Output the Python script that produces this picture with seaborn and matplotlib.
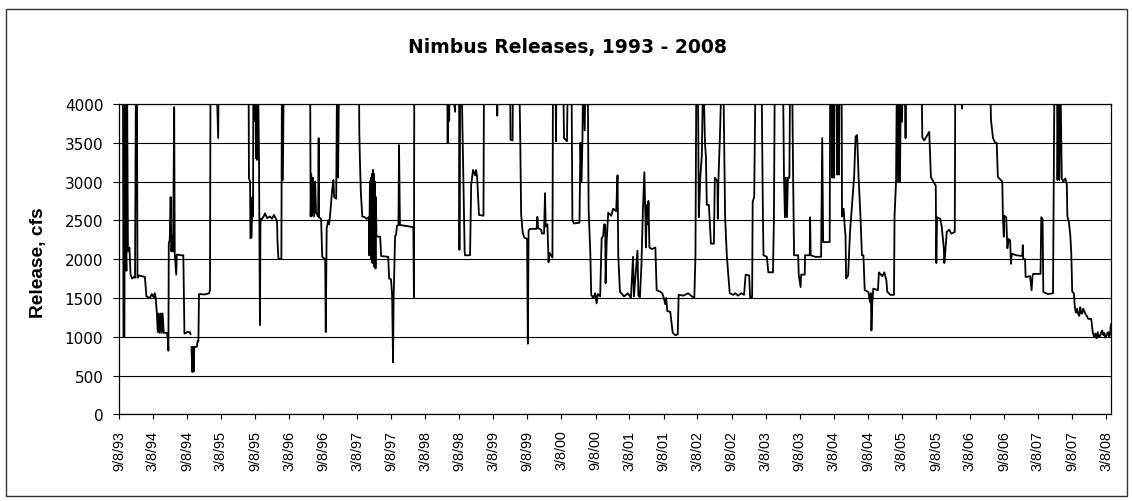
import matplotlib
matplotlib.use("Agg")
import matplotlib.pyplot as plt
from matplotlib.patches import Rectangle
import seaborn as sns
import pandas as pd

# ---------------- data (daily release, cfs; values above 4000 are off-scale) ----------------
dates_1993_94 = ["1993-09-08","1993-09-29","1993-10-02","1993-10-07","1993-10-10","1993-10-15","1993-10-18",
    "1993-10-21","1993-10-26","1993-11-03","1993-11-09","1993-11-17","1993-11-27","1993-12-03","1993-12-08",
    "1993-12-13","1993-12-16","1993-12-24","1994-01-09","1994-01-25","1994-02-02","1994-02-21","1994-03-03",
    "1994-03-13","1994-03-19","1994-03-24","1994-03-30","1994-04-04","1994-04-09","1994-04-14","1994-04-20",
    "1994-04-25","1994-04-30","1994-05-06","1994-05-22","1994-05-27","1994-05-31","1994-06-02","1994-06-07",
    "1994-06-12","1994-06-16","1994-06-20","1994-06-25","1994-07-01","1994-07-04","1994-07-12","1994-07-15",
    "1994-08-05","1994-08-19","1994-08-25","1994-09-08","1994-09-23","1994-09-27"]
cfs_1993_94 = [4500,4500,1000,1000,4500,2100,1850,4500,2100,2150,1800,1750,1770,1760,4500,4500,1760,1790,
    1780,1770,1520,1500,1550,1510,1560,1500,1300,1060,1300,1050,1300,1050,1300,1050,1050,1000,820,2200,2250,
    2800,2100,2300,2100,3960,2070,1800,2060,2050,2050,1040,1060,1060,1030]

dates_1994_96 = ["1994-10-02","1994-10-06","1994-10-10","1994-10-13","1994-10-17","1994-10-31","1994-11-03",
    "1994-11-08","1994-11-11","1994-12-13","1995-01-04","1995-01-09","1995-01-12","1995-02-11","1995-02-22",
    "1995-02-25","1995-08-04","1995-08-06","1995-08-12","1995-08-14","1995-08-20","1995-08-22","1995-08-25",
    "1995-08-28","1995-08-30","1995-09-02","1995-09-10","1995-09-13","1995-09-15","1995-09-18","1995-09-23",
    "1995-09-29","1995-10-04","1995-10-07","1995-10-10","1995-10-26","1995-10-31","1995-11-11","1995-11-27",
    "1995-12-08","1995-12-18","1995-12-29","1996-01-04","1996-01-06","1996-01-11","1996-01-27","1996-01-30",
    "1996-02-04","1996-02-09","1996-06-29","1996-07-02","1996-07-05","1996-07-10","1996-07-15","1996-07-21",
    "1996-07-26","1996-07-31","1996-08-11","1996-08-14","1996-08-16","1996-08-27","1996-09-02"]
cfs_1994_96 = [870,545,870,550,870,870,940,940,1550,1545,
    1560,1600,4500,4500,3560,4500,4500,3040,3000,2270,2280,2550,2800,2550,4500,3780,4500,3300,4500,3280,
    4500,3300,1150,2520,2500,2560,2590,2530,2550,2520,2570,2520,
    2480,2240,2010,2000,4500,3020,4500,4500,2550,3100,2560,3050,2550,3000,2600,2550,3560,2540,2520,2030]

dates_1996_98 = ["1996-09-18","1996-09-21","1996-09-26","1996-10-04","1996-10-09","1996-10-14","1996-10-25",
    "1996-11-01","1996-11-05","1996-11-16","1996-11-21","1996-11-26","1996-12-02","1997-03-18","1997-03-20",
    "1997-03-23","1997-03-28","1997-04-05","1997-04-19","1997-04-29","1997-05-10","1997-05-12","1997-05-16",
    "1997-05-18","1997-05-21","1997-05-24","1997-05-27","1997-05-29","1997-06-01","1997-06-04","1997-06-06",
    "1997-06-09","1997-06-12","1997-06-15","1997-06-17","1997-06-20","1997-06-28","1997-07-10","1997-07-15",
    "1997-08-22","1997-08-27","1997-09-06","1997-09-12","1997-09-17","1997-09-20","1997-09-28","1997-10-03",
    "1997-10-08","1997-10-16","1997-10-19","1997-10-24","1997-11-20","1997-12-17","1998-01-04","1998-01-07",
    "1998-01-09","1998-07-04","1998-07-07","1998-07-10","1998-07-15","1998-07-18","1998-08-16","1998-08-19",
    "1998-09-06"]
cfs_1996_98 = [2000,1060,2400,2500,2450,2560,2880,3020,2800,2780,4500,3050,4500,4500,3640,
    3300,2870,2550,2540,2520,2540,2050,3000,2100,3050,2000,3100,1950,3150,2000,3100,
    1900,3000,1880,2800,2300,2290,2290,2040,2030,1750,1740,1530,670,1500,2300,2310,
    2430,2440,3470,2440,2430,2420,2410,1510,4500,4500,3500,4500,3780,4500,3900,4500,4500]

dates_1998_00 = ["1998-09-08","1998-09-12","1998-09-22","1998-10-06","1998-10-08","1998-11-04","1998-11-10",
    "1998-11-20","1998-12-01","1998-12-06","1998-12-12","1998-12-22","1999-01-15","1999-01-18","1999-03-27",
    "1999-03-30","1999-04-01","1999-06-07","1999-06-09","1999-06-20","1999-06-23","1999-07-25","1999-07-31",
    "1999-08-05","1999-08-13","1999-08-21","1999-09-06","1999-09-10","1999-09-14","1999-09-22","1999-10-27",
    "1999-10-31","1999-11-04","1999-11-20","1999-11-25","1999-12-06","1999-12-11","1999-12-15","1999-12-24",
    "1999-12-30","2000-01-04","2000-01-12","2000-01-20","2000-01-23","2000-02-05","2000-02-08","2000-02-11",
    "2000-03-17","2000-03-22","2000-04-07","2000-04-12","2000-05-01","2000-05-06","2000-05-14","2000-06-13",
    "2000-06-18","2000-06-24","2000-06-29","2000-07-02","2000-07-11","2000-07-16","2000-07-27","2000-08-01",
    "2000-08-10","2000-08-15","2000-08-26","2000-09-05"]
cfs_1998_00 = [2120,4500,4000,2100,2050,2050,2960,3150,3080,3150,3060,2570,2560,4500,4500,
    3850,4500,4500,3540,3530,4500,4500,3600,2580,2350,2280,2260,910,2370,2390,2390,
    2545,2400,2380,2330,2330,2850,2420,2450,1960,2080,2050,2020,4500,4500,3520,4500,
    4500,3560,3520,4500,4500,2500,2460,2470,3500,3000,3550,4500,3660,4500,4500,2640,
    2090,1540,1500,1560]

dates_2000_02 = ["2000-09-13","2000-09-19","2000-10-02","2000-10-05","2000-10-10","2000-10-18","2000-10-23",
    "2000-10-29","2000-10-31","2000-11-06","2000-11-14","2000-11-30","2000-12-11","2000-12-27","2001-01-03",
    "2001-01-07","2001-01-16","2001-02-07","2001-02-28","2001-03-16","2001-03-27","2001-04-01","2001-04-20",
    "2001-04-25","2001-05-03","2001-05-11","2001-05-19","2001-05-27","2001-06-02","2001-06-04","2001-06-10",
    "2001-06-15","2001-06-18","2001-06-23","2001-07-07","2001-07-25","2001-08-01","2001-08-20","2001-08-31",
    "2001-09-08","2001-09-16","2001-09-21","2001-09-27","2001-10-13","2001-10-26","2001-11-09","2001-11-22",
    "2001-11-27","2001-12-22","2002-01-17","2002-02-06","2002-02-19","2002-02-25","2002-03-02","2002-03-10",
    "2002-03-15","2002-03-23","2002-03-31","2002-04-08","2002-04-17","2002-04-22","2002-04-27","2002-05-08",
    "2002-05-19","2002-06-04","2002-06-09","2002-06-23","2002-06-25","2002-06-28","2002-07-06","2002-07-17",
    "2002-07-24","2002-07-29","2002-08-03","2002-08-12","2002-08-20","2002-08-28"]
cfs_2000_02 = [1430,1550,1520,1830,2270,2300,2450,2440,1690,2230,2600,2560,2650,2620,3080,
    2050,1580,1520,1560,1500,2030,1520,2110,1530,1510,1900,2620,3120,2500,2150,2700,
    2450,2750,2150,2130,2150,1600,1580,1560,1500,1420,1500,1330,1320,1050,1020,1030,
    1540,1530,1560,1520,1500,2040,4500,4500,2540,3050,3330,4500,3500,3330,2700,2700,
    2200,2200,3050,3000,2520,3000,3560,4500,4500,3500,2550,2060,1800,1560]

dates_2002_04 = ["2002-09-15","2002-09-26","2002-10-12","2002-10-28","2002-11-13","2002-11-21","2002-12-10",
    "2002-12-15","2002-12-26","2002-12-29","2003-01-06","2003-01-14","2003-02-14","2003-02-18","2003-02-22",
    "2003-02-25","2003-03-15","2003-03-23","2003-04-17","2003-04-22","2003-04-27","2003-06-09","2003-06-15",
    "2003-06-20","2003-06-25","2003-07-01","2003-07-06","2003-07-14","2003-07-18","2003-07-28","2003-08-03",
    "2003-08-08","2003-08-30","2003-09-02","2003-09-12","2003-09-15","2003-10-04","2003-10-06","2003-10-31",
    "2003-11-02","2003-11-05","2003-11-29","2003-12-31","2004-01-06","2004-01-11","2004-02-15","2004-02-18",
    "2004-02-26","2004-02-28","2004-03-04","2004-03-10","2004-03-12","2004-03-23","2004-03-26","2004-03-31",
    "2004-04-05","2004-04-08","2004-04-19","2004-04-21","2004-04-30","2004-05-05","2004-05-10","2004-05-13",
    "2004-05-24","2004-06-03","2004-06-14","2004-06-25","2004-07-03","2004-07-11","2004-07-19","2004-07-29",
    "2004-08-06","2004-08-14","2004-08-21"]
cfs_2002_04 = [1540,1560,1530,1560,1540,1800,1790,1510,1510,2740,2800,4500,4500,3555,2540,
    2050,2030,1830,1830,2540,4500,4500,3050,2540,3050,2540,3050,3050,4500,4500,3050,
    2050,2050,1800,1640,1800,1800,2050,2050,2540,2050,2030,2030,3560,2220,2220,4500,
    4500,3050,4500,3050,4500,4500,3090,4500,3090,4500,4500,2550,2650,2440,2300,1750,
    1790,2350,2700,3060,3580,3600,3060,2560,2050,2050,1600]

dates_2004_06 = ["2004-09-10","2004-09-18","2004-09-23","2004-09-26","2004-10-01","2004-10-06","2004-10-31",
    "2004-11-05","2004-11-24","2004-12-04","2004-12-15","2004-12-20","2005-01-05","2005-01-25","2005-01-28",
    "2005-02-05","2005-02-10","2005-02-16","2005-02-21","2005-02-26","2005-03-04","2005-03-09","2005-03-14",
    "2005-03-25","2005-03-28","2005-03-30","2005-06-21","2005-06-26","2005-07-06","2005-08-02","2005-08-11",
    "2005-08-24","2005-09-06","2005-09-09","2005-09-13","2005-09-30","2005-10-08","2005-10-19","2005-10-22",
    "2005-10-27","2005-11-04","2005-11-17","2005-11-28","2005-12-17","2005-12-20","2006-01-22","2006-01-25",
    "2006-01-28","2006-06-24","2006-06-29","2006-07-10","2006-07-22","2006-07-30","2006-08-05","2006-08-29",
    "2006-09-01","2006-09-06"]
cfs_2004_06 = [1575,1450,1560,1080,1450,1620,1600,1830,1780,1830,1730,1580,1540,1540,2560,
    3000,4500,3000,4500,3000,4500,3770,4500,4500,3560,4500,4500,3570,3530,3640,3060,
    3000,2950,1950,2540,2520,2420,2150,1950,2090,2350,2380,2330,2350,4500,4500,3940,
    4500,4500,3800,3560,3500,3500,3060,3000,2560,2290]

dates_2006_08 = ["2006-09-08","2006-09-19","2006-09-25","2006-10-02","2006-10-10","2006-10-14","2006-10-19",
    "2006-11-12","2006-12-14","2006-12-17","2006-12-19","2006-12-29","2007-01-01","2007-01-25","2007-02-02",
    "2007-02-07","2007-02-11","2007-03-22","2007-03-26","2007-04-02","2007-04-06","2007-05-01","2007-05-28",
    "2007-06-05","2007-06-18","2007-06-21","2007-06-26","2007-07-01","2007-07-06","2007-07-14","2007-07-22",
    "2007-08-02","2007-08-10","2007-08-13","2007-08-21","2007-08-29","2007-09-03","2007-09-08","2007-09-17",
    "2007-09-22","2007-09-28","2007-10-05","2007-10-10","2007-10-16","2007-10-21","2007-10-27","2007-11-01",
    "2007-11-06","2007-11-12","2007-11-18","2007-11-25","2007-12-03","2007-12-19","2007-12-27","2008-01-03",
    "2008-01-10","2008-01-17","2008-01-23","2008-01-29","2008-02-05","2008-02-11","2008-02-16","2008-02-22",
    "2008-02-27","2008-03-03","2008-03-08","2008-03-13","2008-03-19","2008-03-24","2008-03-29","2008-04-02"]
cfs_2006_08 = [2560,2540,2140,2260,2240,1940,2070,2050,2040,2180,2000,2000,1770,1780,1600,
    1780,1810,1810,2540,2520,1575,1550,1560,4500,4500,3020,4500,3020,4500,3040,3000,
    3040,2960,2550,2480,2300,2070,1580,1560,1380,1310,1360,1290,1270,1380,1300,1300,
    1360,1330,1290,1270,1230,1230,1060,1000,1040,980,1060,1000,1010,1060,1080,1020,
    1050,990,1000,1040,1060,1000,1030,1160]

# segment 1 ends before a gap in the record (late Sep 1994)
segments = [
    [(dates_1993_94, cfs_1993_94)],
    [(dates_1994_96, cfs_1994_96), (dates_1996_98, cfs_1996_98), (dates_1998_00, cfs_1998_00),
     (dates_2000_02, cfs_2000_02), (dates_2002_04, cfs_2002_04), (dates_2004_06, cfs_2004_06),
     (dates_2006_08, cfs_2006_08)],
]

frames = []
for seg_id, parts in enumerate(segments):
    for d, v in parts:
        n = min(len(d), len(v))
        frames.append(pd.DataFrame({"date": pd.to_datetime(d[:n]), "cfs": v[:n], "segment": seg_id}))
df = pd.concat(frames, ignore_index=True)

# tick labels every six months
tick_dates = pd.date_range("1993-09-08", "2008-03-08", freq=pd.DateOffset(months=6))
tick_labels = [f"{t.month}/{t.day}/{t.year % 100:02d}" for t in tick_dates]
y_ticks = list(range(0, 4001, 500))

# ---------------- figure ----------------
sns.set_style("white")
plt.rcParams["font.family"] = ["DejaVu Sans"]
plt.rcParams["text.color"] = "black"
plt.rcParams["axes.labelcolor"] = "black"
plt.rcParams["xtick.color"] = "black"
plt.rcParams["ytick.color"] = "black"

W, H = 1133, 502
fig = plt.figure(figsize=(W / 100, H / 100), dpi=100)
fig.patch.set_facecolor("white")
ax = fig.add_axes([119 / W, 1 - 415.3 / H, (1111 - 119) / W, (415.3 - 105) / H])

sns.lineplot(data=df, x="date", y="cfs", units="segment", estimator=None, sort=False,
             color="black", linewidth=1.3, ax=ax, legend=False)

ax.set_ylim(0, 4000)
ax.set_yticks(y_ticks)
ax.set_xlim(pd.Timestamp("1993-09-08"), pd.Timestamp("2008-04-03"))
ax.set_xticks(tick_dates)
ax.set_xticklabels(tick_labels, rotation=90, family="Liberation Sans", fontsize=10.4, color="black")
ax.set_yticklabels([str(v) for v in y_ticks], family="DejaVu Sans", fontsize=11, color="black")
ax.set_xlabel("")
ax.set_ylabel("")

ax.yaxis.grid(True, color="black", linewidth=0.8)
ax.xaxis.grid(False)
ax.set_axisbelow(True)
for s in ax.spines.values():
    s.set_color("black")
    s.set_linewidth(0.9)
ax.tick_params(axis="y", direction="out", length=4.3, width=0.8, pad=7, colors="black", left=True)
ax.tick_params(axis="x", direction="out", length=3.6, width=0.8, pad=7.5, colors="black", bottom=True)

fig.text(567 / W, 1 - 47 / H, "Nimbus Releases, 1993 - 2008", ha="center", va="center",
         fontsize=13.5, fontweight="bold", family="DejaVu Sans", color="black")
fig.text(39 / W, 1 - 262.5 / H, "Release, cfs", rotation=90, ha="center", va="center",
         fontsize=13.8, fontweight="bold", family="Liberation Sans", color="black")

fig.patches.append(Rectangle((6 / W, 1 - 497 / H), (1127 - 6) / W, (497 - 10) / H,
                             transform=fig.transFigure, fill=False, edgecolor="#333333", linewidth=1))

fig.savefig("out.png", dpi=100, facecolor="white")
